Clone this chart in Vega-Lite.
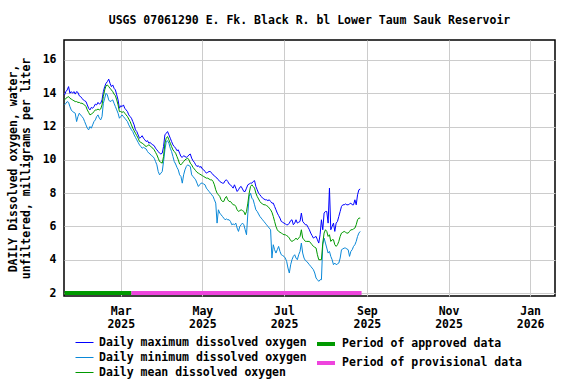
{
"$schema":"https://vega.github.io/schema/vega-lite/v6.json",
"width":491,"height":256,
"autosize":{"type":"none"},
"padding":{"left":64,"top":40,"right":21,"bottom":88},
"background":"white",
"config":{
 "font":"DejaVu Sans Mono",
 "view":{"stroke":"black","strokeWidth":1.5},
 "axis":{"labelFont":"DejaVu Sans Mono","labelFontWeight":"bold","labelFontSize":11.5,"labelColor":"black","titleFont":"DejaVu Sans Mono","titleFontWeight":"bold","titleFontSize":11.5,"titleColor":"black","gridColor":"#cccccc","gridWidth":1,"domain":false,"ticks":false,"labelOverlap":false},
 "legend":{"labelFont":"DejaVu Sans Mono","labelFontWeight":"bold","labelFontSize":11.5,"labelColor":"black","symbolType":"stroke","labelOffset":5,"rowPadding":0,"labelLimit":0}
},
"title":{"text":"USGS 07061290 E. Fk. Black R. bl Lower Taum Sauk Reservoir","font":"DejaVu Sans Mono","fontWeight":"bold","fontSize":11.5,"color":"black","anchor":"middle","offset":14},
"resolve":{"scale":{"stroke":"independent"},"legend":{"stroke":"independent"}},
"layer":[
{
"data":{"format":{"parse":{"date":"date:'%Y-%m-%d'"}},"values":[
{"date":"2025-01-18","max":13.9,"min":13.3,"mean":13.6},
{"date":"2025-01-19","max":14.1,"min":13.4,"mean":13.7},
{"date":"2025-01-20","max":14.2,"min":13.5,"mean":13.75},
{"date":"2025-01-21","max":14.4,"min":13.45,"mean":13.8},
{"date":"2025-01-22","max":14.0,"min":13.2,"mean":13.7},
{"date":"2025-01-23","max":14.1,"min":13.0,"mean":13.65},
{"date":"2025-01-24","max":14.0,"min":12.9,"mean":13.6},
{"date":"2025-01-25","max":14.1,"min":12.85,"mean":13.55},
{"date":"2025-01-26","max":13.95,"min":12.8,"mean":13.5},
{"date":"2025-01-27","max":14.1,"min":12.3,"mean":13.5},
{"date":"2025-01-28","max":14.05,"min":12.6,"mean":13.45},
{"date":"2025-01-29","max":13.85,"min":12.8,"mean":13.45},
{"date":"2025-01-30","max":13.8,"min":12.7,"mean":13.4},
{"date":"2025-01-31","max":13.7,"min":12.6,"mean":13.4},
{"date":"2025-02-01","max":13.6,"min":12.5,"mean":13.35},
{"date":"2025-02-02","max":13.55,"min":12.3,"mean":13.3},
{"date":"2025-02-03","max":13.5,"min":12.1,"mean":13.2},
{"date":"2025-02-04","max":13.3,"min":11.9,"mean":13.0},
{"date":"2025-02-05","max":13.1,"min":11.8,"mean":12.85},
{"date":"2025-02-06","max":13.0,"min":12.0,"mean":12.7},
{"date":"2025-02-07","max":13.15,"min":11.9,"mean":12.75},
{"date":"2025-02-08","max":13.1,"min":12.1,"mean":12.8},
{"date":"2025-02-09","max":13.2,"min":12.3,"mean":12.9},
{"date":"2025-02-10","max":13.35,"min":12.4,"mean":13.0},
{"date":"2025-02-11","max":13.3,"min":12.6,"mean":13.0},
{"date":"2025-02-12","max":13.45,"min":12.7,"mean":13.05},
{"date":"2025-02-13","max":13.35,"min":12.5,"mean":13.0},
{"date":"2025-02-14","max":13.4,"min":12.4,"mean":13.05},
{"date":"2025-02-15","max":13.6,"min":12.6,"mean":13.3},
{"date":"2025-02-16","max":14.1,"min":13.4,"mean":13.8},
{"date":"2025-02-17","max":14.4,"min":13.7,"mean":14.2},
{"date":"2025-02-18","max":14.6,"min":14.0,"mean":14.45},
{"date":"2025-02-19","max":14.7,"min":13.9,"mean":14.5},
{"date":"2025-02-20","max":14.85,"min":13.6,"mean":14.4},
{"date":"2025-02-21","max":14.6,"min":13.5,"mean":14.3},
{"date":"2025-02-22","max":14.4,"min":13.55,"mean":14.2},
{"date":"2025-02-23","max":14.5,"min":13.6,"mean":14.1},
{"date":"2025-02-24","max":14.3,"min":13.4,"mean":13.95},
{"date":"2025-02-25","max":14.2,"min":13.2,"mean":13.85},
{"date":"2025-02-26","max":13.9,"min":13.0,"mean":13.6},
{"date":"2025-02-27","max":13.6,"min":12.8,"mean":13.3},
{"date":"2025-02-28","max":13.1,"min":12.5,"mean":12.9},
{"date":"2025-03-01","max":13.25,"min":12.6,"mean":12.9},
{"date":"2025-03-02","max":13.2,"min":12.7,"mean":12.85},
{"date":"2025-03-03","max":13.3,"min":12.6,"mean":12.9},
{"date":"2025-03-04","max":13.1,"min":12.5,"mean":12.8},
{"date":"2025-03-05","max":13.0,"min":12.4,"mean":12.7},
{"date":"2025-03-06","max":12.9,"min":12.3,"mean":12.6},
{"date":"2025-03-07","max":12.7,"min":12.1,"mean":12.45},
{"date":"2025-03-08","max":12.6,"min":11.95,"mean":12.3},
{"date":"2025-03-09","max":12.5,"min":11.8,"mean":12.1},
{"date":"2025-03-10","max":12.3,"min":11.7,"mean":11.9},
{"date":"2025-03-11","max":12.1,"min":11.5,"mean":11.75},
{"date":"2025-03-12","max":11.8,"min":11.35,"mean":11.6},
{"date":"2025-03-13","max":11.7,"min":11.2,"mean":11.45},
{"date":"2025-03-14","max":11.5,"min":11.05,"mean":11.3},
{"date":"2025-03-15","max":11.3,"min":10.9,"mean":11.1},
{"date":"2025-03-16","max":11.35,"min":10.8,"mean":11.05},
{"date":"2025-03-17","max":11.45,"min":10.7,"mean":11.0},
{"date":"2025-03-18","max":11.3,"min":10.75,"mean":10.95},
{"date":"2025-03-19","max":11.2,"min":10.7,"mean":10.85},
{"date":"2025-03-20","max":11.1,"min":10.65,"mean":10.8},
{"date":"2025-03-21","max":11.15,"min":10.5,"mean":10.85},
{"date":"2025-03-22","max":11.0,"min":10.4,"mean":10.9},
{"date":"2025-03-23","max":11.05,"min":10.35,"mean":10.85},
{"date":"2025-03-24","max":10.95,"min":10.25,"mean":10.75},
{"date":"2025-03-25","max":10.9,"min":10.2,"mean":10.7},
{"date":"2025-03-26","max":10.85,"min":10.1,"mean":10.6},
{"date":"2025-03-27","max":10.7,"min":9.9,"mean":10.45},
{"date":"2025-03-28","max":10.6,"min":9.7,"mean":10.3},
{"date":"2025-03-29","max":10.5,"min":9.3,"mean":10.1},
{"date":"2025-03-30","max":10.4,"min":9.1,"mean":9.9},
{"date":"2025-03-31","max":10.35,"min":9.2,"mean":9.85},
{"date":"2025-04-01","max":10.4,"min":9.3,"mean":9.8},
{"date":"2025-04-02","max":10.8,"min":9.9,"mean":10.2},
{"date":"2025-04-03","max":11.5,"min":10.6,"mean":11.0},
{"date":"2025-04-04","max":11.6,"min":11.1,"mean":11.3},
{"date":"2025-04-05","max":11.7,"min":11.15,"mean":11.4},
{"date":"2025-04-06","max":11.5,"min":11.0,"mean":11.2},
{"date":"2025-04-07","max":11.3,"min":10.7,"mean":11.0},
{"date":"2025-04-08","max":11.1,"min":10.5,"mean":10.8},
{"date":"2025-04-09","max":10.9,"min":10.2,"mean":10.6},
{"date":"2025-04-10","max":10.8,"min":9.9,"mean":10.5},
{"date":"2025-04-11","max":10.7,"min":9.75,"mean":10.4},
{"date":"2025-04-12","max":10.55,"min":9.55,"mean":10.2},
{"date":"2025-04-13","max":10.6,"min":9.4,"mean":10.0},
{"date":"2025-04-14","max":10.4,"min":9.1,"mean":9.75},
{"date":"2025-04-15","max":10.2,"min":9.0,"mean":9.7},
{"date":"2025-04-16","max":10.15,"min":8.6,"mean":9.8},
{"date":"2025-04-17","max":10.25,"min":9.1,"mean":9.9},
{"date":"2025-04-18","max":10.2,"min":9.4,"mean":10.0},
{"date":"2025-04-19","max":10.15,"min":9.6,"mean":10.05},
{"date":"2025-04-20","max":10.2,"min":9.7,"mean":10.1},
{"date":"2025-04-21","max":10.3,"min":9.65,"mean":10.0},
{"date":"2025-04-22","max":10.35,"min":9.6,"mean":9.8},
{"date":"2025-04-23","max":10.1,"min":9.1,"mean":9.7},
{"date":"2025-04-24","max":9.95,"min":9.0,"mean":9.55},
{"date":"2025-04-25","max":9.85,"min":8.9,"mean":9.45},
{"date":"2025-04-26","max":9.7,"min":8.8,"mean":9.35},
{"date":"2025-04-27","max":9.6,"min":8.6,"mean":9.25},
{"date":"2025-04-28","max":9.65,"min":8.4,"mean":9.2},
{"date":"2025-04-29","max":9.55,"min":8.5,"mean":9.15},
{"date":"2025-04-30","max":9.6,"min":8.6,"mean":9.1},
{"date":"2025-05-01","max":9.45,"min":8.6,"mean":9.05},
{"date":"2025-05-02","max":9.4,"min":8.55,"mean":9.0},
{"date":"2025-05-03","max":9.3,"min":8.5,"mean":8.95},
{"date":"2025-05-04","max":9.2,"min":8.3,"mean":8.9},
{"date":"2025-05-05","max":9.25,"min":8.2,"mean":8.9},
{"date":"2025-05-06","max":9.3,"min":8.1,"mean":8.85},
{"date":"2025-05-07","max":9.3,"min":8.0,"mean":8.8},
{"date":"2025-05-08","max":9.2,"min":7.9,"mean":8.8},
{"date":"2025-05-09","max":9.1,"min":7.8,"mean":8.7},
{"date":"2025-05-10","max":9.05,"min":7.6,"mean":8.5},
{"date":"2025-05-11","max":8.95,"min":7.4,"mean":8.2},
{"date":"2025-05-12","max":8.9,"min":6.2,"mean":8.0},
{"date":"2025-05-13","max":8.8,"min":7.0,"mean":7.9},
{"date":"2025-05-14","max":8.7,"min":6.8,"mean":7.8},
{"date":"2025-05-15","max":8.65,"min":6.7,"mean":7.6},
{"date":"2025-05-16","max":8.6,"min":6.6,"mean":7.5},
{"date":"2025-05-17","max":8.6,"min":6.5,"mean":7.5},
{"date":"2025-05-18","max":8.75,"min":6.4,"mean":7.7},
{"date":"2025-05-19","max":8.8,"min":6.45,"mean":7.8},
{"date":"2025-05-20","max":8.7,"min":6.4,"mean":7.6},
{"date":"2025-05-21","max":8.55,"min":6.4,"mean":7.5},
{"date":"2025-05-22","max":8.5,"min":6.3,"mean":7.5},
{"date":"2025-05-23","max":8.4,"min":6.1,"mean":7.4},
{"date":"2025-05-24","max":8.3,"min":6.15,"mean":7.3},
{"date":"2025-05-25","max":8.5,"min":6.1,"mean":7.3},
{"date":"2025-05-26","max":8.3,"min":6.2,"mean":7.2},
{"date":"2025-05-27","max":8.1,"min":5.9,"mean":7.0},
{"date":"2025-05-28","max":8.2,"min":5.7,"mean":6.9},
{"date":"2025-05-29","max":8.35,"min":6.0,"mean":6.95},
{"date":"2025-05-30","max":8.4,"min":6.1,"mean":7.0},
{"date":"2025-05-31","max":8.25,"min":6.2,"mean":6.95},
{"date":"2025-06-01","max":8.1,"min":6.1,"mean":6.9},
{"date":"2025-06-02","max":8.1,"min":5.8,"mean":6.7},
{"date":"2025-06-03","max":8.3,"min":5.5,"mean":6.9},
{"date":"2025-06-04","max":8.5,"min":6.8,"mean":7.4},
{"date":"2025-06-05","max":8.55,"min":7.8,"mean":8.0},
{"date":"2025-06-06","max":8.6,"min":8.0,"mean":8.4},
{"date":"2025-06-07","max":8.6,"min":7.7,"mean":8.5},
{"date":"2025-06-08","max":8.7,"min":7.6,"mean":8.4},
{"date":"2025-06-09","max":8.75,"min":7.3,"mean":8.3},
{"date":"2025-06-10","max":8.4,"min":7.0,"mean":8.0},
{"date":"2025-06-11","max":8.2,"min":6.9,"mean":7.8},
{"date":"2025-06-12","max":8.0,"min":6.75,"mean":7.65},
{"date":"2025-06-13","max":7.9,"min":6.6,"mean":7.5},
{"date":"2025-06-14","max":7.8,"min":6.5,"mean":7.4},
{"date":"2025-06-15","max":7.7,"min":6.4,"mean":7.35},
{"date":"2025-06-16","max":7.65,"min":6.3,"mean":7.3},
{"date":"2025-06-17","max":7.6,"min":6.2,"mean":7.3},
{"date":"2025-06-18","max":7.6,"min":6.1,"mean":7.25},
{"date":"2025-06-19","max":7.55,"min":6.0,"mean":7.2},
{"date":"2025-06-20","max":7.6,"min":5.9,"mean":7.1},
{"date":"2025-06-21","max":7.5,"min":5.8,"mean":7.0},
{"date":"2025-06-22","max":7.4,"min":4.1,"mean":6.85},
{"date":"2025-06-23","max":7.4,"min":4.9,"mean":6.6},
{"date":"2025-06-24","max":7.2,"min":4.6,"mean":6.3},
{"date":"2025-06-25","max":7.0,"min":4.4,"mean":6.0},
{"date":"2025-06-26","max":6.8,"min":4.6,"mean":5.8},
{"date":"2025-06-27","max":6.65,"min":4.8,"mean":5.7},
{"date":"2025-06-28","max":6.5,"min":4.5,"mean":5.65},
{"date":"2025-06-29","max":6.3,"min":4.3,"mean":5.6},
{"date":"2025-06-30","max":6.25,"min":4.25,"mean":5.55},
{"date":"2025-07-01","max":6.2,"min":4.2,"mean":5.5},
{"date":"2025-07-02","max":6.15,"min":4.1,"mean":5.5},
{"date":"2025-07-03","max":6.1,"min":3.9,"mean":5.45},
{"date":"2025-07-04","max":6.1,"min":3.5,"mean":5.4},
{"date":"2025-07-05","max":6.2,"min":3.2,"mean":5.3},
{"date":"2025-07-06","max":6.35,"min":3.7,"mean":5.15},
{"date":"2025-07-07","max":6.4,"min":4.0,"mean":5.1},
{"date":"2025-07-08","max":6.1,"min":4.2,"mean":5.15},
{"date":"2025-07-09","max":6.2,"min":4.3,"mean":5.2},
{"date":"2025-07-10","max":6.4,"min":4.1,"mean":5.3},
{"date":"2025-07-11","max":6.2,"min":4.0,"mean":5.2},
{"date":"2025-07-12","max":6.25,"min":4.3,"mean":5.3},
{"date":"2025-07-13","max":6.3,"min":4.5,"mean":5.4},
{"date":"2025-07-14","max":6.8,"min":5.0,"mean":5.8},
{"date":"2025-07-15","max":6.3,"min":4.4,"mean":5.3},
{"date":"2025-07-16","max":6.2,"min":4.1,"mean":5.2},
{"date":"2025-07-17","max":6.1,"min":3.95,"mean":5.1},
{"date":"2025-07-18","max":6.1,"min":3.9,"mean":5.1},
{"date":"2025-07-19","max":5.95,"min":3.8,"mean":5.1},
{"date":"2025-07-20","max":5.8,"min":3.7,"mean":5.1},
{"date":"2025-07-21","max":5.6,"min":3.6,"mean":5.0},
{"date":"2025-07-22","max":5.45,"min":3.5,"mean":4.9},
{"date":"2025-07-23","max":5.3,"min":3.4,"mean":4.8},
{"date":"2025-07-24","max":5.35,"min":3.2,"mean":4.75},
{"date":"2025-07-25","max":5.4,"min":2.9,"mean":4.7},
{"date":"2025-07-26","max":5.2,"min":2.8,"mean":4.3},
{"date":"2025-07-27","max":5.0,"min":2.7,"mean":4.0},
{"date":"2025-07-28","max":5.5,"min":2.8,"mean":4.0},
{"date":"2025-07-29","max":6.4,"min":2.8,"mean":4.0},
{"date":"2025-07-30","max":5.8,"min":4.9,"mean":5.0},
{"date":"2025-07-31","max":6.8,"min":5.3,"mean":5.6},
{"date":"2025-08-01","max":6.9,"min":5.0,"mean":5.8},
{"date":"2025-08-02","max":6.9,"min":4.7,"mean":5.7},
{"date":"2025-08-03","max":6.2,"min":4.4,"mean":5.4},
{"date":"2025-08-04","max":8.3,"min":4.5,"mean":5.5},
{"date":"2025-08-05","max":5.8,"min":4.2,"mean":5.1},
{"date":"2025-08-06","max":6.0,"min":4.0,"mean":5.2},
{"date":"2025-08-07","max":6.2,"min":3.7,"mean":5.2},
{"date":"2025-08-08","max":5.7,"min":3.8,"mean":4.9},
{"date":"2025-08-09","max":6.2,"min":3.7,"mean":4.8},
{"date":"2025-08-10","max":6.3,"min":3.75,"mean":4.9},
{"date":"2025-08-11","max":6.6,"min":3.8,"mean":5.1},
{"date":"2025-08-12","max":6.9,"min":4.1,"mean":5.4},
{"date":"2025-08-13","max":7.2,"min":4.6,"mean":5.6},
{"date":"2025-08-14","max":7.3,"min":4.65,"mean":5.65},
{"date":"2025-08-15","max":7.3,"min":4.7,"mean":5.7},
{"date":"2025-08-16","max":7.35,"min":4.7,"mean":5.65},
{"date":"2025-08-17","max":7.3,"min":4.65,"mean":5.6},
{"date":"2025-08-18","max":7.3,"min":4.6,"mean":5.6},
{"date":"2025-08-19","max":7.35,"min":4.2,"mean":5.7},
{"date":"2025-08-20","max":7.4,"min":4.5,"mean":5.8},
{"date":"2025-08-21","max":7.3,"min":4.6,"mean":5.8},
{"date":"2025-08-22","max":7.3,"min":4.8,"mean":5.85},
{"date":"2025-08-23","max":7.6,"min":4.9,"mean":5.9},
{"date":"2025-08-24","max":7.3,"min":5.1,"mean":6.1},
{"date":"2025-08-25","max":7.9,"min":5.4,"mean":6.4},
{"date":"2025-08-26","max":8.2,"min":5.6,"mean":6.5},
{"date":"2025-08-27","max":8.25,"min":5.7,"mean":6.5}
]},
"transform":[{"fold":["max","min","mean"],"as":["series","value"]}],
"mark":{"type":"line","strokeWidth":1},
"encoding":{
 "x":{"field":"date","type":"temporal","title":null,
   "scale":{"domain":[{"year":2025,"month":1,"date":17,"hours":14},{"year":2026,"month":1,"date":19,"hours":14}]},
   "axis":{"values":[{"year":2025,"month":3,"date":1},{"year":2025,"month":5,"date":1},{"year":2025,"month":7,"date":1},{"year":2025,"month":9,"date":1},{"year":2025,"month":11,"date":1},{"year":2026,"month":1,"date":1}],
     "labelExpr":"[timeFormat(datum.value, '%b'), timeFormat(datum.value, '%Y')]","labelLineHeight":13,"labelPadding":9,"labelAlign":"center"}},
 "y":{"field":"value","type":"quantitative",
   "title":["DAILY Dissolved oxygen, water,","unfiltered, milligrams per liter"],
   "scale":{"domain":[1.82,17.2],"nice":false,"zero":false},
   "axis":{"values":[2,4,6,8,10,12,14,16],"labelOverlap":false,"labelSeparation":0,"labelPadding":8,"titlePadding":11,"titleLineHeight":13}},
 "stroke":{"field":"series","type":"nominal",
   "scale":{"domain":["max","min","mean"],"range":["#0000ff","#0a88d8","#009900"]},
   "legend":{"title":null,"orient":"none","legendX":11,"legendY":293,"symbolSize":324,"symbolStrokeWidth":1,
     "labelExpr":"datum.label == 'max' ? 'Daily maximum dissolved oxygen' : datum.label == 'min' ? 'Daily minimum dissolved oxygen' : 'Daily mean dissolved oxygen'"}}
}
},
{
"data":{"format":{"parse":{"start":"date:'%Y-%m-%d'","end":"date:'%Y-%m-%d'"}},"values":[
 {"start":"2025-01-18","end":"2025-03-09","period":"approved"},
 {"start":"2025-03-09","end":"2025-08-28","period":"provisional"}
]},
"mark":{"type":"rule","strokeWidth":4,"strokeCap":"butt"},
"encoding":{
 "x":{"field":"start","type":"temporal","title":null,
   "axis":{"values":[{"year":2025,"month":3,"date":1},{"year":2025,"month":5,"date":1},{"year":2025,"month":7,"date":1},{"year":2025,"month":9,"date":1},{"year":2025,"month":11,"date":1},{"year":2026,"month":1,"date":1}],
     "labelExpr":"[timeFormat(datum.value, '%b'), timeFormat(datum.value, '%Y')]","labelLineHeight":13,"labelPadding":9,"labelAlign":"center"}},
 "x2":{"field":"end"},
 "y":{"datum":2,"type":"quantitative",
   "title":["DAILY Dissolved oxygen, water,","unfiltered, milligrams per liter"],
   "axis":{"values":[2,4,6,8,10,12,14,16],"labelOverlap":false,"labelSeparation":0,"labelPadding":8,"titlePadding":11,"titleLineHeight":13}},
 "stroke":{"field":"period","type":"nominal",
   "scale":{"domain":["approved","provisional"],"range":["#009900","#ee44dd"]},
   "legend":{"title":null,"orient":"none","legendX":251,"legendY":293,"symbolSize":324,"symbolStrokeWidth":4,
     "labelExpr":"datum.label == 'approved' ? 'Period of approved data' : 'Period of provisional data'"}}
}
}
]
}
